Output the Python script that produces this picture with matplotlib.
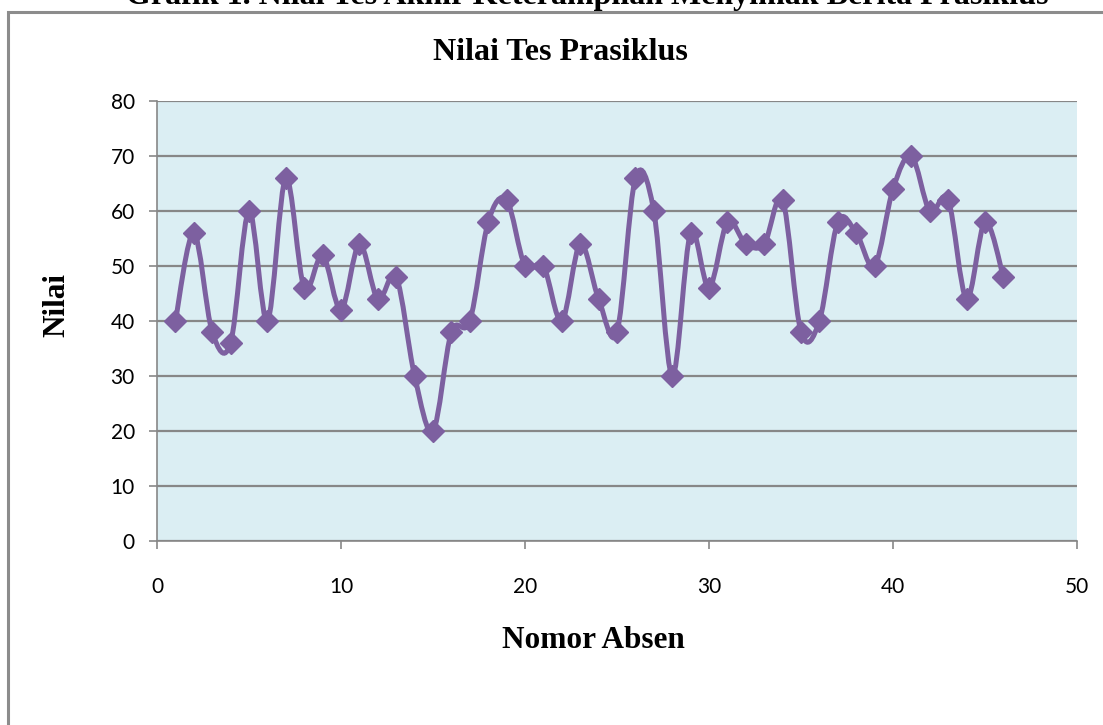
import numpy as np
import matplotlib.pyplot as plt
from matplotlib.path import Path
from matplotlib.patches import PathPatch, Rectangle

# Nilai tes prasiklus per nomor absen
nomor_absen = list(range(1, 47))
nilai = [40, 56, 38, 36, 60, 40, 66, 46, 52, 42,
         54, 44, 48, 30, 20, 38, 40, 58, 62, 50,
         50, 40, 54, 44, 38, 66, 60, 30, 56, 46,
         58, 54, 54, 62, 38, 40, 58, 56, 50, 64,
         70, 60, 62, 44, 58, 48]

judul_grafik = "Grafik 1. Nilai Tes Akhir Keterampilan Menyimak Berita Prasiklus"
judul_chart = "Nilai Tes Prasiklus"
label_x = "Nomor Absen"
label_y = "Nilai"

ungu = "#7D60A0"
latar = "#DBEEF3"
abu = "#878787"
serif = ["Liberation Serif", "DejaVu Serif"]


def smooth_path(x, y):
    # Catmull-Rom style Bezier curve through every point
    pts = np.column_stack([x, y]).astype(float)
    n = len(pts)
    verts = [pts[0]]
    codes = [Path.MOVETO]
    for i in range(n - 1):
        p0 = pts[i - 1] if i > 0 else pts[i]
        p1 = pts[i]
        p2 = pts[i + 1]
        p3 = pts[i + 2] if i + 2 < n else pts[i + 1]
        c1 = p1 + (p2 - p0) / 6.0
        c2 = p2 - (p3 - p1) / 6.0
        verts += [c1, c2, p2]
        codes += [Path.CURVE4] * 3
    return Path(verts, codes)


fig = plt.figure(figsize=(11.03, 7.25), dpi=100)
ax = fig.add_axes([157 / 1103, 1 - 541 / 725, 920 / 1103, 440 / 725])

ax.set_facecolor(latar)
ax.set_xlim(0, 50)
ax.set_ylim(0, 80)
ax.set_xticks(range(0, 51, 10))
ax.set_yticks(range(0, 81, 10))
ax.grid(axis="y", color=abu, linewidth=1.6)
ax.set_axisbelow(True)

for side in ["top", "right"]:
    ax.spines[side].set_visible(False)
for side in ["left", "bottom"]:
    ax.spines[side].set_color(abu)
    ax.spines[side].set_linewidth(1.2)
ax.tick_params(colors=abu, length=6, width=1.2, labelcolor="black",
               labelsize=15)
ax.tick_params(axis="x", pad=20)
ax.tick_params(axis="y", pad=10)
for lbl in ax.get_xticklabels() + ax.get_yticklabels():
    lbl.set_fontfamily(["Lato", "DejaVu Sans"])

ax.add_patch(PathPatch(smooth_path(nomor_absen, nilai), facecolor="none",
                       edgecolor=ungu, linewidth=3.6, zorder=3))
ax.plot(nomor_absen, nilai, linestyle="none", marker="D", markersize=11,
        color=ungu, markeredgecolor=ungu, zorder=4)

ax.set_xlabel(label_x, fontsize=22.5, fontweight="bold", family=serif,
              va="center")
ax.xaxis.set_label_coords((593 - 157) / 920, (541 - 641) / 440)
ax.set_ylabel(label_y, fontsize=22.5, fontweight="bold", family=serif,
              va="center")
ax.yaxis.set_label_coords((57 - 157) / 920, (541 - 305) / 440)

fig.text(560 / 1103, 1 - 52 / 725, judul_chart, ha="center", va="center",
         fontsize=23, fontweight="bold", family=serif)

# judul dokumen, terpotong di tepi atas
fig.text(587 / 1103, 1 - 4 / 725, judul_grafik, ha="center", va="baseline",
         fontsize=23, fontweight="bold", family=serif)

# bingkai chart
fig.add_artist(Rectangle((8 / 1103, -0.1), 1.2, 1 - 12 / 725 + 0.1,
                         transform=fig.transFigure, facecolor="none",
                         edgecolor="#8c8c8c", linewidth=2.2, clip_on=False))

fig.savefig("out.png", dpi=100)
